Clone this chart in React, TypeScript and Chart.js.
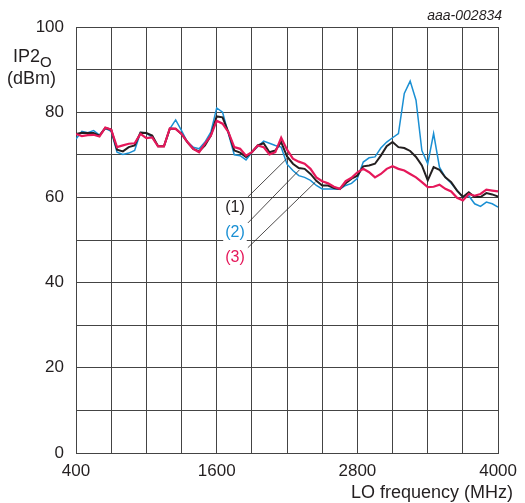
import React, { useEffect, useRef } from "react";
import { Chart, registerables } from "chart.js";

Chart.register(...registerables);

const freqMHz = [
  400, 450, 500, 550, 600, 650, 700, 750, 800, 850, 900, 950, 1000, 1050, 1100, 1150,
  1200, 1250, 1300, 1350, 1400, 1450, 1500, 1550, 1600, 1650, 1700, 1750, 1800, 1850,
  1900, 1950, 2000, 2050, 2100, 2150, 2200, 2250, 2300, 2350, 2400, 2450, 2500, 2550,
  2600, 2650, 2700, 2750, 2800, 2850, 2900, 2950, 3000, 3050, 3100, 3150, 3200, 3250,
  3300, 3350, 3400, 3450, 3500, 3550, 3600, 3650, 3700, 3750, 3800, 3850, 3900, 3950, 4000,
];

const curve1 = [
  74.9, 75.2, 75.1, 75.1, 74.5, 76.3, 75.9, 71.2, 70.8, 71.8, 72.2, 75.2, 75.1, 74.5, 72.0, 72.0,
  76.1, 76.1, 74.9, 73.0, 71.4, 70.8, 72.2, 74.5, 79.0, 78.8, 75.3, 71.0, 70.5, 69.5,
  70.6, 72.2, 72.7, 70.6, 71.0, 73.0, 69.6, 67.9, 66.9, 66.7, 65.5, 63.9, 62.8, 62.8,
  62.2, 62.0, 63.3, 64.4, 65.1, 67.3, 67.5, 67.9, 69.8, 72.0, 73.0, 71.8, 71.6, 70.9,
  69.5, 67.5, 64.0, 67.1, 66.5, 64.7, 63.6, 61.6, 60.1, 61.2, 60.1, 60.1, 61.0, 60.7, 60.2,
];

const curve2 = [
  73.7, 75.5, 75.2, 75.7, 74.6, 76.2, 75.5, 70.6, 70.1, 70.4, 71.0, 75.2, 75.1, 74.1, 72.0, 72.0,
  76.1, 78.2, 75.7, 73.0, 71.8, 71.4, 73.0, 75.3, 81.0, 80.0, 74.9, 70.0, 69.8, 68.8,
  70.6, 71.9, 73.2, 72.7, 72.2, 71.8, 67.8, 66.3, 65.1, 64.7, 64.0, 62.8, 62.0, 62.0,
  62.0, 61.9, 62.8, 63.3, 64.5, 68.3, 69.3, 69.5, 71.6, 73.0, 74.0, 75.0, 84.4, 87.3,
  82.8, 71.0, 67.9, 75.0, 67.1, 64.7, 63.3, 61.6, 60.1, 60.4, 58.5, 57.9, 58.9, 58.5, 57.7,
];

const curve3 = [
  74.9, 74.4, 74.6, 74.7, 74.3, 76.4, 75.9, 71.8, 72.2, 72.6, 72.7, 74.9, 73.9, 74.1, 72.0, 72.0,
  76.2, 76.1, 74.9, 73.0, 71.4, 70.6, 72.6, 74.5, 78.0, 77.3, 75.3, 71.8, 71.4, 69.8,
  70.6, 72.2, 71.8, 70.1, 70.6, 74.0, 71.2, 69.1, 68.4, 67.9, 66.7, 64.7, 63.8, 63.3,
  62.5, 62.0, 63.8, 64.6, 65.9, 66.7, 65.9, 64.7, 65.5, 66.7, 67.3, 66.7, 66.3, 65.5,
  64.7, 63.6, 62.4, 62.5, 63.0, 62.0, 61.4, 59.9, 59.3, 60.8, 60.4, 60.8, 61.8, 61.6, 61.4,
];

const xTickLabels = [400, 1600, 2800, 4000];
const yTickLabels = [0, 20, 40, 60, 80, 100];

const curveLabels = ["(1)", "(2)", "(3)"];
const labelAnchors = [
  { x: 1756, y: 57.7 },
  { x: 1756, y: 51.7 },
  { x: 1756, y: 45.8 },
];
const leaderStarts = [
  { x: 1866, y: 60.1 },
  { x: 1866, y: 54.0 },
  { x: 1866, y: 48.2 },
];
const leaderEnds = [
  { x: 2205, y: 69.3 },
  { x: 2307, y: 66.5 },
  { x: 2442, y: 63.6 },
];

const COL1 = "#231f20";
const COL2 = "#1a8fd3";
const COL3 = "#e5185a";
const labelColors = [COL1, COL2, COL3];
const FONT = "'Liberation Sans', Arial, sans-serif";

const toPoints = (ys: number[]) => ys.map((y, i) => ({ x: freqMHz[i], y }));

const overlayPlugin = {
  id: "overlay",
  afterDatasetsDraw(chart: any) {
    const ctx = chart.ctx;
    const xs = chart.scales.x;
    const ys = chart.scales.y;
    ctx.save();
    // leader lines
    ctx.strokeStyle = "#231f20";
    ctx.lineWidth = 0.8;
    for (let i = 0; i < leaderStarts.length; i++) {
      ctx.beginPath();
      ctx.moveTo(xs.getPixelForValue(leaderStarts[i].x), ys.getPixelForValue(leaderStarts[i].y));
      ctx.lineTo(xs.getPixelForValue(leaderEnds[i].x), ys.getPixelForValue(leaderEnds[i].y));
      ctx.stroke();
    }
    // labels
    ctx.font = `16px ${FONT}`;
    ctx.textAlign = "center";
    ctx.textBaseline = "middle";
    for (let i = 0; i < curveLabels.length; i++) {
      const px = xs.getPixelForValue(labelAnchors[i].x);
      const py = ys.getPixelForValue(labelAnchors[i].y);
      const w = ctx.measureText(curveLabels[i]).width;
      ctx.fillStyle = "#ffffff";
      ctx.fillRect(px - w / 2 - 2, py - 9, w + 4, 18);
      ctx.fillStyle = labelColors[i];
      ctx.fillText(curveLabels[i], px, py);
    }
    // y title
    ctx.fillStyle = "#231f20";
    ctx.textAlign = "left";
    ctx.textBaseline = "alphabetic";
    ctx.font = `18px ${FONT}`;
    ctx.fillText("IP2", 13, 62);
    const w2 = ctx.measureText("IP2").width;
    ctx.font = `15px ${FONT}`;
    ctx.fillText("O", 13 + w2, 67);
    ctx.font = `18px ${FONT}`;
    ctx.fillText("(dBm)", 7, 84);
    // x title
    ctx.textAlign = "right";
    ctx.fillText("LO frequency (MHz)", 513, 498);
    // figure id
    ctx.font = `italic 14px ${FONT}`;
    ctx.fillText("aaa-002834", 502, 20);
    ctx.restore();
  },
};

export default function App() {
  const ref = useRef<HTMLCanvasElement | null>(null);
  useEffect(() => {
    if (!ref.current) return;
    const chart = new Chart(ref.current, {
      type: "line",
      data: {
        datasets: [
          { label: "(3)", data: toPoints(curve3), borderColor: COL3, borderWidth: 2.2 },
          { label: "(1)", data: toPoints(curve1), borderColor: COL1, borderWidth: 2 },
          { label: "(2)", data: toPoints(curve2), borderColor: COL2, borderWidth: 1.5 },
        ],
      },
      options: {
        responsive: false,
        animation: false,
        devicePixelRatio: 1,
        elements: { point: { radius: 0 }, line: { tension: 0 } },
        layout: { padding: { left: 0, right: 24, top: 27, bottom: 0 } },
        plugins: { legend: { display: false }, tooltip: { enabled: false }, title: { display: false } },
        scales: {
          x: {
            type: "linear",
            min: 400,
            max: 4000,
            afterBuildTicks: (s: any) => {
              const t = [];
              for (let v = 400; v <= 4000; v += 300) t.push({ value: v });
              s.ticks = t;
            },
            afterFit: (s: any) => {
              s.height = 50;
            },
            ticks: {
              autoSkip: false,
              maxRotation: 0,
              padding: 8,
              color: "#231f20",
              font: { family: FONT, size: 17 },
              callback: (v: any) => (xTickLabels.includes(Number(v)) ? String(v) : ""),
            },
            grid: { color: "#444", lineWidth: 1, drawTicks: false },
            border: { color: "#444", width: 1 },
          },
          y: {
            min: 0,
            max: 100,
            afterFit: (s: any) => {
              s.width = 76;
            },
            ticks: {
              stepSize: 10,
              autoSkip: false,
              padding: 12,
              color: "#231f20",
              font: { family: FONT, size: 17 },
              callback: (v: any) => (yTickLabels.includes(Number(v)) ? String(v) : ""),
            },
            grid: { color: "#444", lineWidth: 1, drawTicks: false },
            border: { color: "#444", width: 1 },
          },
        },
      },
      plugins: [overlayPlugin],
    } as any);
    return () => chart.destroy();
  }, []);
  return (
    <div style={{ position: "fixed", left: 0, top: 0, width: 525, height: 503, background: "#fff" }}>
      <canvas ref={ref} width={525} height={503} style={{ display: "block" }} />
    </div>
  );
}
